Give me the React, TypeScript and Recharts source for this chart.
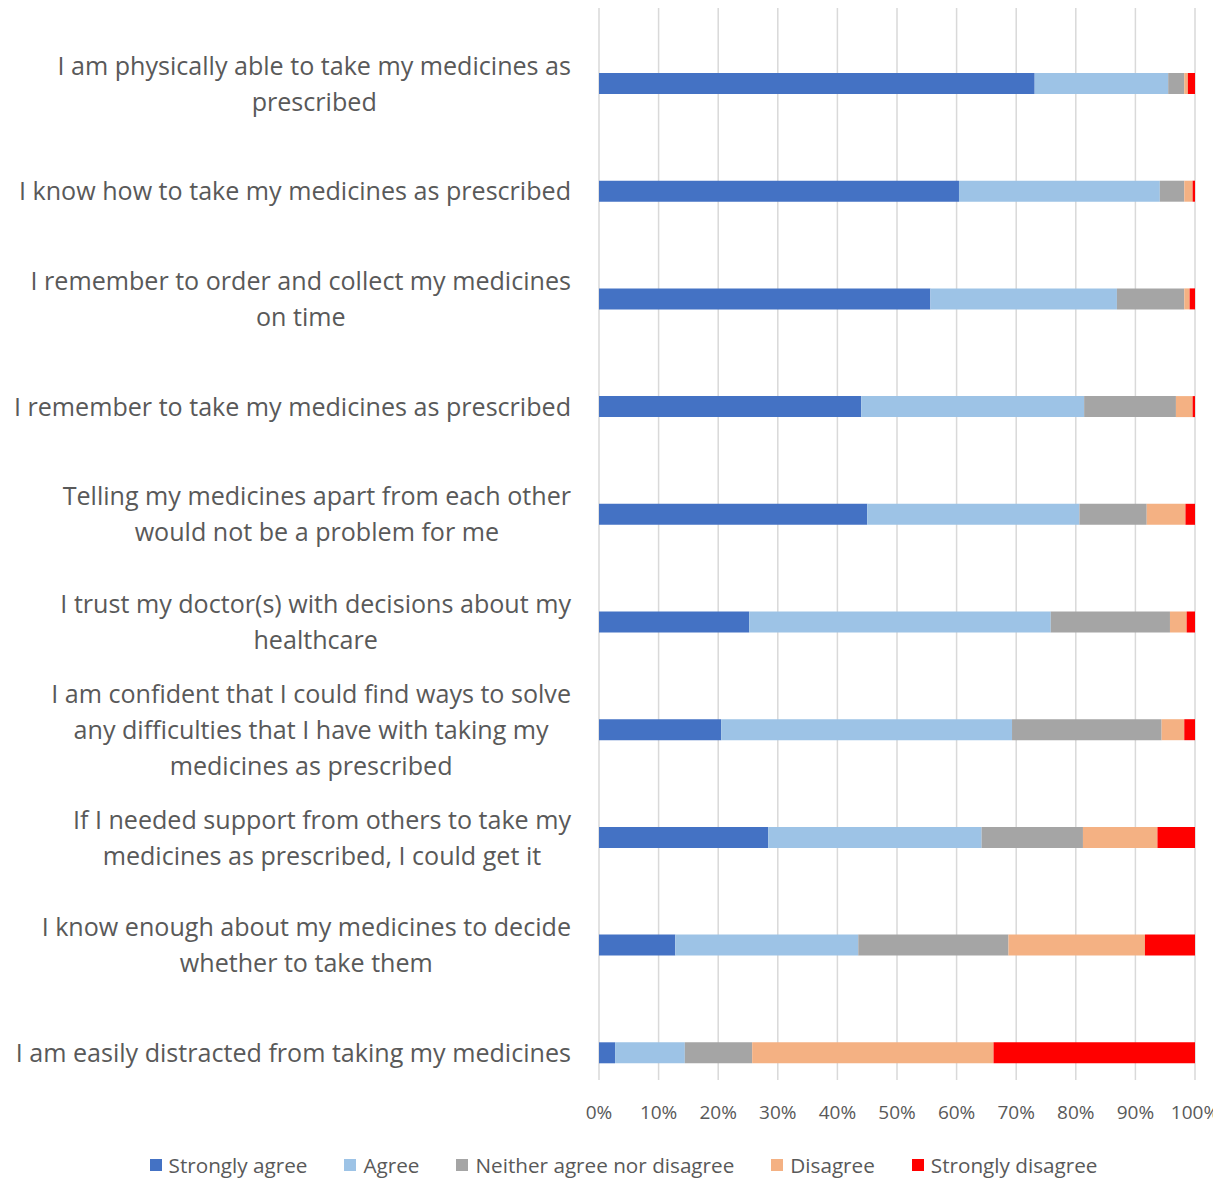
import { BarChart, Bar, XAxis, YAxis, CartesianGrid } from 'recharts';

const categories = [
  'I am physically able to take my medicines as\nprescribed',
  'I know how to take my medicines as prescribed',
  'I remember to order and collect my medicines\non time',
  'I remember to take my medicines as prescribed',
  'Telling my medicines apart from each other\nwould not be a problem for me',
  'I trust my doctor(s) with decisions about my\nhealthcare',
  'I am confident that I could find ways to solve\nany difficulties that I have with taking my\nmedicines as prescribed',
  'If I needed support from others to take my\nmedicines as prescribed, I could get it',
  'I know enough about my medicines to decide\nwhether to take them',
  'I am easily distracted from taking my medicines',
];

const stronglyAgree = [73.1, 60.4, 55.6, 44.0, 45.0, 25.2, 20.5, 28.4, 12.8, 2.7];
const agree = [22.4, 33.7, 31.3, 37.4, 35.6, 50.6, 48.8, 35.8, 30.7, 11.7];
const neither = [2.7, 4.1, 11.3, 15.4, 11.3, 20.0, 25.1, 17.0, 25.2, 11.3];
const disagree = [0.6, 1.4, 0.9, 2.8, 6.5, 2.8, 3.8, 12.5, 22.9, 40.5];
const stronglyDisagree = [1.2, 0.4, 0.9, 0.4, 1.6, 1.4, 1.8, 6.3, 8.4, 33.8];

const xTicks = [0, 0.1, 0.2, 0.3, 0.4, 0.5, 0.6, 0.7, 0.8, 0.9, 1];

const SERIES = [
  { key: 'sa', name: 'Strongly agree', color: '#4472C4' },
  { key: 'a', name: 'Agree', color: '#9DC3E6' },
  { key: 'n', name: 'Neither agree nor disagree', color: '#A5A5A5' },
  { key: 'd', name: 'Disagree', color: '#F4B183' },
  { key: 'sd', name: 'Strongly disagree', color: '#FF0000' },
];

const data = categories.map((c, i) => ({
  name: c,
  sa: stronglyAgree[i],
  a: agree[i],
  n: neither[i],
  d: disagree[i],
  sd: stronglyDisagree[i],
}));

const FONT = '"Open Sans", sans-serif';
const LABEL_SIZE = 25.1;

let ctx: CanvasRenderingContext2D | null = null;
function measure(t: string) {
  if (!ctx) ctx = document.createElement('canvas').getContext('2d');
  if (!ctx) return t.length * LABEL_SIZE * 0.5;
  ctx.font = `${LABEL_SIZE}px ${FONT}`;
  return ctx.measureText(t).width;
}

// libellés centrés ligne par ligne, bloc aligné à droite
function CategoryTick(props: any) {
  const { y, payload } = props;
  const lines: string[] = String(payload.value).split('\n');
  const right = 571;
  const w = Math.max(...lines.map(measure));
  const cx = right - w / 2;
  const lh = 36;
  const y0 = y - ((lines.length - 1) * lh) / 2;
  return (
    <text textAnchor="middle" fill="#595959" fontSize={LABEL_SIZE} fontFamily={FONT}>
      {lines.map((l, i) => (
        <tspan key={i} x={cx} y={y0 + i * lh} dy="0.35em">{l}</tspan>
      ))}
    </text>
  );
}

function LegendRow() {
  return (
    <div style={{ position: 'absolute', top: 1153, left: 0, width: 1221, display: 'flex', justifyContent: 'center', gap: 37, paddingLeft: 26, boxSizing: 'border-box', fontFamily: FONT, fontSize: 20.7, lineHeight: '24px', color: '#595959' }}>
      {SERIES.map((s) => (
        <div key={s.key} style={{ display: 'flex', alignItems: 'center', gap: 7 }}>
          <span style={{ width: 12, height: 12, background: s.color, display: 'inline-block' }} />
          <span>{s.name}</span>
        </div>
      ))}
    </div>
  );
}

export default function App() {
  return (
    <div style={{ position: 'relative', width: 1221, height: 1180, marginTop: -8, marginLeft: -8, background: '#fff' }}>
      <BarChart
        width={1221}
        height={1180}
        data={data}
        layout="vertical"
        stackOffset="expand"
        margin={{ top: 3, right: 26, left: 0, bottom: 45 }}
        barSize={21}
      >
        <CartesianGrid horizontal={false} stroke="#D9D9D9" strokeWidth={1.5} />
        <XAxis
          type="number"
          domain={[0, 1]}
          ticks={xTicks}
          tickFormatter={(v: number) => `${Math.round(v * 100)}%`}
          axisLine={false}
          tickLine={false}
          tickMargin={20}
          height={55}
          interval={0}
          tick={{ fill: '#595959', fontSize: 19, fontFamily: FONT }}
        />
        <YAxis
          type="category"
          dataKey="name"
          width={599}
          axisLine={false}
          tickLine={false}
          interval={0}
          padding={{ top: 27, bottom: -27 }}
          tick={<CategoryTick />}
        />
        {SERIES.map((s) => (
          <Bar key={s.key} dataKey={s.key} name={s.name} stackId="x" fill={s.color} isAnimationActive={false} />
        ))}
      </BarChart>
      <LegendRow />
    </div>
  );
}
